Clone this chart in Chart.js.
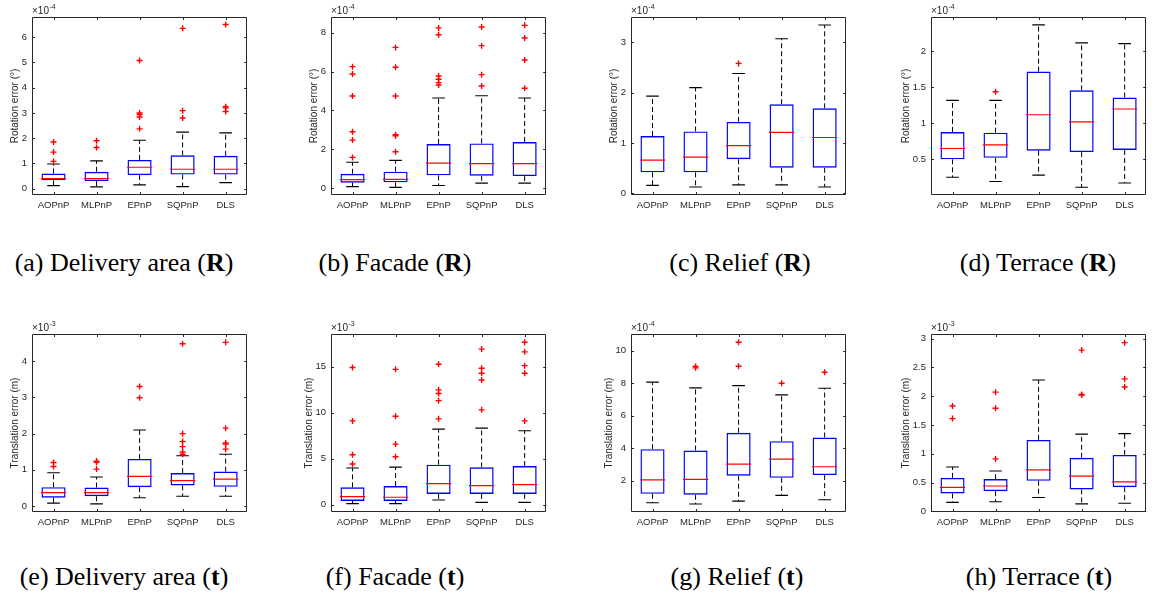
<!DOCTYPE html>
<html>
<head>
<meta charset="utf-8">
<script src="https://cdn.jsdelivr.net/npm/chart.js@4.4.1/dist/chart.umd.min.js"></script>
<style>
body { margin: 0; background: #fff; width: 1161px; height: 599px; overflow: hidden; position: relative; }
canvas { position: absolute; }
.cap { position: absolute; width: 320px; text-align: center; font-family: 'Liberation Serif', serif;
       font-size: 26px; line-height: 30px; color: #000; white-space: nowrap; }
</style>
</head>
<body>
<script>
const methods = ['AOPnP', 'MLPnP', 'EPnP', 'SQPnP', 'DLS'];

// each box: [lower whisker, q1, median, q3, upper whisker]
// (a) Delivery area, rotation  (x1e-4)
const deliveryRotBox = [[0.12, 0.33, 0.40, 0.60, 0.98], [0.07, 0.30, 0.40, 0.67, 1.10], [0.15, 0.54, 0.85, 1.14, 1.92], [0.08, 0.56, 0.77, 1.32, 2.24], [0.24, 0.56, 0.77, 1.30, 2.21]];
const deliveryRotOut = [[1.08, 1.45, 1.85], [1.63, 1.90], [2.37, 2.84, 2.94, 3.00, 5.08], [2.80, 3.09, 6.35], [3.06, 3.20, 3.25, 6.50]];
const deliveryRotTicks = [0, 1, 2, 3, 4, 5, 6];

// (b) Facade, rotation  (x1e-4)
const facadeRotBox = [[0.09, 0.29, 0.45, 0.75, 1.34], [0.05, 0.31, 0.46, 0.86, 1.44], [0.15, 0.67, 1.30, 2.28, 4.64], [0.27, 0.65, 1.27, 2.31, 4.76], [0.27, 0.63, 1.27, 2.38, 4.64]];
const facadeRotOut = [[1.59, 2.48, 2.91, 4.74, 5.87, 6.25], [1.88, 2.70, 2.76, 4.74, 6.22, 7.24], [5.31, 5.43, 5.60, 5.77, 7.89, 8.24], [5.26, 5.84, 7.33, 8.29], [5.14, 6.59, 7.72, 8.37]];
const facadeRotTicks = [0, 2, 4, 6, 8];

// (c) Relief, rotation  (x1e-4)
const reliefRotBox = [[0.16, 0.42, 0.66, 1.14, 1.93], [0.13, 0.42, 0.72, 1.23, 2.10], [0.17, 0.68, 0.95, 1.42, 2.38], [0.17, 0.51, 1.21, 1.77, 3.07], [0.13, 0.51, 1.11, 1.69, 3.34]];
const reliefRotOut = [[], [], [2.58], [], []];
const reliefRotTicks = [0, 1, 2, 3];

// (d) Terrace, rotation  (x1e-4)
const terraceRotBox = [[0.25, 0.50, 0.65, 0.88, 1.32], [0.19, 0.52, 0.70, 0.87, 1.32], [0.28, 0.62, 1.12, 1.72, 2.37], [0.11, 0.60, 1.02, 1.46, 2.12], [0.17, 0.63, 1.20, 1.36, 2.11]];
const terraceRotOut = [[], [1.44], [], [], []];
const terraceRotTicks = [0.5, 1, 1.5, 2];

// (e) Delivery area, translation  (x1e-3)
const deliveryTransBox = [[0.08, 0.23, 0.37, 0.52, 0.92], [0.06, 0.27, 0.37, 0.51, 0.80], [0.23, 0.52, 0.82, 1.30, 2.10], [0.27, 0.57, 0.70, 0.91, 1.39], [0.27, 0.53, 0.74, 0.95, 1.43]];
const deliveryTransOut = [[1.09, 1.20], [1.02, 1.21, 1.24], [2.99, 3.30], [1.43, 1.49, 1.64, 1.78, 2.00, 4.48], [1.57, 1.71, 1.74, 2.15, 4.52]];
const deliveryTransTicks = [0, 1, 2, 3, 4];

// (f) Facade, translation  (x1e-3)
const facadeTransBox = [[0.11, 0.40, 0.87, 1.88, 3.98], [0.11, 0.40, 0.80, 2.02, 4.08], [0.50, 1.16, 2.28, 4.34, 8.20], [0.25, 1.16, 2.06, 4.05, 8.31], [0.25, 1.16, 2.17, 4.19, 8.02]];
const facadeTransOut = [[4.41, 5.42, 9.10, 14.90], [5.20, 6.58, 9.60, 14.70], [9.32, 11.30, 12.07, 12.47, 15.25], [10.30, 13.55, 14.28, 14.82, 16.90], [9.10, 14.28, 15.10, 16.60, 17.64]];
const facadeTransTicks = [0, 5, 10, 15];

// (g) Relief, translation  (x1e-4)
const reliefTransBox = [[0.65, 1.20, 2.06, 3.94, 8.06], [0.57, 1.14, 2.08, 3.86, 7.71], [0.75, 2.31, 3.02, 4.95, 7.85], [1.10, 2.18, 3.33, 4.43, 7.28], [0.83, 2.35, 2.86, 4.66, 7.69]];
const reliefTransOut = [[], [8.94, 9.02], [9.04, 10.51], [7.99], [8.67]];
const reliefTransTicks = [2, 4, 6, 8, 10];

// (h) Terrace, translation  (x1e-3)
const terraceTransBox = [[0.156, 0.31, 0.415, 0.58, 0.77], [0.167, 0.35, 0.44, 0.56, 0.70], [0.24, 0.53, 0.72, 1.24, 2.28], [0.13, 0.38, 0.61, 0.93, 1.34], [0.14, 0.42, 0.51, 0.98, 1.35]];
const terraceTransOut = [[1.61, 1.83], [0.91, 1.79, 2.07], [], [2.02, 2.03, 2.80], [2.16, 2.30, 2.93]];
const terraceTransTicks = [0, 0.5, 1, 1.5, 2, 2.5, 3];

const ROT = 'Rotation error (°)';
const TRANS = 'Translation error (m)';

const panels = [
    { box: deliveryRotBox, out: deliveryRotOut, ticks: deliveryRotTicks, min: -0.25, max: 6.8, exp: '-4', title: ROT, left: 32, top: 17, gap: 17, cap: '(a) Delivery area (<b>R</b>)', capX: 124, capY: 263 },
    { box: facadeRotBox, out: facadeRotOut, ticks: facadeRotTicks, min: -0.34, max: 8.8, exp: '-4', title: ROT, left: 331, top: 17, gap: 17, cap: '(b) Facade (<b>R</b>)', capX: 395, capY: 263 },
    { box: reliefRotBox, out: reliefRotOut, ticks: reliefRotTicks, min: -0.03, max: 3.5, exp: '-4', title: ROT, left: 631, top: 17, gap: 17, cap: '(c) Relief (<b>R</b>)', capX: 740, capY: 263 },
    { box: terraceRotBox, out: terraceRotOut, ticks: terraceRotTicks, min: 0.003, max: 2.48, exp: '-4', title: ROT, left: 931, top: 17, gap: 25, cap: '(d) Terrace (<b>R</b>)', capX: 1038, capY: 263 },
    { box: deliveryTransBox, out: deliveryTransOut, ticks: deliveryTransTicks, min: -0.165, max: 4.75, exp: '-3', title: TRANS, left: 32, top: 333.5, gap: 17, cap: '(e) Delivery area (<b>t</b>)', capX: 124, capY: 577 },
    { box: facadeTransBox, out: facadeTransOut, ticks: facadeTransTicks, min: -0.8, max: 18.54, exp: '-3', title: TRANS, left: 331, top: 333.5, gap: 22, cap: '(f) Facade (<b>t</b>)', capX: 395, capY: 577 },
    { box: reliefTransBox, out: reliefTransOut, ticks: reliefTransTicks, min: 0.08, max: 11.02, exp: '-4', title: TRANS, left: 631, top: 333.5, gap: 22, cap: '(g) Relief (<b>t</b>)', capX: 737, capY: 577 },
    { box: terraceTransBox, out: terraceTransOut, ticks: terraceTransTicks, min: -0.012, max: 3.08, exp: '-3', title: TRANS, left: 931, top: 333.5, gap: 25, cap: '(h) Terrace (<b>t</b>)', capX: 1039, capY: 577 },
];

const PLOT_W = 225.5, PLOT_H = 178;
const AXIS_W = 45, PAD_TOP = 17, PAD_RIGHT = 4, XAXIS_H = 22;
const BOX_FRAC = 0.56;
const INK = '#262626';
const FONT = '"Liberation Sans", Arial, sans-serif';
const boxR = PLOT_W / methods.length * BOX_FRAC / 2;

const framePlugin = {
    id: 'frame',
    afterDatasetsDraw(chart, args, opts) {
        const { ctx, chartArea: a, scales: { x, y } } = chart;
        ctx.save();
        ctx.strokeStyle = INK;
        ctx.lineWidth = 1;
        ctx.beginPath();
        ctx.rect(Math.round(a.left) + 0.5, Math.round(a.top) + 0.5, Math.round(a.right - a.left) - 1, Math.round(a.bottom - a.top) - 1);
        y.ticks.forEach(t => {
            const py = Math.round(y.getPixelForValue(t.value)) + 0.5;
            ctx.moveTo(a.left, py); ctx.lineTo(a.left + 3, py);
            ctx.moveTo(a.right, py); ctx.lineTo(a.right - 3, py);
        });
        methods.forEach((m, i) => {
            const px = Math.round(x.getPixelForValue(i)) + 0.5;
            ctx.moveTo(px, a.bottom); ctx.lineTo(px, a.bottom - 3);
            ctx.moveTo(px, a.top); ctx.lineTo(px, a.top + 3);
        });
        ctx.stroke();
        // exponent label
        ctx.fillStyle = INK;
        ctx.textBaseline = 'alphabetic';
        ctx.font = '10px ' + FONT;
        ctx.fillText('×10', a.left, a.top - 3);
        const w = ctx.measureText('×10').width;
        ctx.font = '7px ' + FONT;
        ctx.fillText(opts.exp, a.left + w + 0.5, a.top - 8);
        ctx.restore();
    }
};

panels.forEach(p => {
    const cv = document.createElement('canvas');
    const cw = AXIS_W + PLOT_W + PAD_RIGHT, ch = PAD_TOP + PLOT_H + XAXIS_H;
    cv.width = cw; cv.height = ch;
    cv.style.left = (p.left - AXIS_W) + 'px';
    cv.style.top = (p.top - PAD_TOP) + 'px';
    document.body.appendChild(cv);

    const cap = document.createElement('div');
    cap.className = 'cap';
    cap.innerHTML = p.cap;
    cap.style.left = (p.capX - 160) + 'px';
    cap.style.top = (p.capY - 15) + 'px';
    document.body.appendChild(cap);

    const whiskers = [], caps = [], medians = [], outliers = [];
    p.box.forEach((b, i) => {
        const m = methods[i];
        whiskers.push({ x: m, y: b[3] }, { x: m, y: b[4] }, { x: m, y: null }, { x: m, y: b[1] }, { x: m, y: b[0] }, { x: m, y: null });
        caps.push({ x: m, y: b[0] }, { x: m, y: b[4] });
        medians.push({ x: m, y: b[2] });
        p.out[i].forEach(v => outliers.push({ x: m, y: v }));
    });

    new Chart(cv.getContext('2d'), {
        type: 'bar',
        data: {
            labels: methods,
            datasets: [
                { type: 'line', data: outliers, showLine: false, pointStyle: 'cross', pointRadius: 3, pointBorderColor: '#ff0000', pointBorderWidth: 1.4, order: 0 },
                { type: 'line', data: medians, showLine: false, pointStyle: 'line', pointRadius: boxR, pointBorderColor: '#ff0000', pointBorderWidth: 1.2, order: 1 },
                { type: 'bar', data: p.box.map(b => [b[1], b[3]]), backgroundColor: 'rgba(0,0,0,0)', borderColor: '#0000ff', borderWidth: 1.4, borderSkipped: false, barPercentage: BOX_FRAC, categoryPercentage: 1, order: 2 },
                { type: 'line', data: caps, showLine: false, pointStyle: 'line', pointRadius: boxR / 2, pointBorderColor: '#000', pointBorderWidth: 1.1, order: 3 },
                { type: 'line', data: whiskers, borderColor: '#000', borderWidth: 1, borderDash: [5, 3], pointRadius: 0, spanGaps: false, order: 4 },
            ]
        },
        options: {
            responsive: false, animation: false, devicePixelRatio: 1, events: [],
            layout: { padding: { top: PAD_TOP, right: PAD_RIGHT, left: 0, bottom: 0 } },
            plugins: { legend: { display: false }, tooltip: { enabled: false }, frame: { exp: p.exp } },
            scales: {
                x: {
                    type: 'category', offset: true,
                    grid: { display: false, drawTicks: false }, border: { display: false },
                    ticks: { color: INK, font: { family: FONT, size: 9.5 }, padding: 5, maxRotation: 0, autoSkip: false },
                    afterFit: s => { s.height = XAXIS_H; }
                },
                y: {
                    type: 'linear', min: p.min, max: p.max,
                    grid: { display: false, drawTicks: false }, border: { display: false },
                    ticks: { color: INK, font: { family: FONT, size: 9.5 }, padding: 5, callback: v => String(v) },
                    afterBuildTicks: s => { s.ticks = p.ticks.map(v => ({ value: v })); },
                    afterFit: s => { s.width = AXIS_W; },
                    title: { display: true, text: p.title, color: INK, font: { family: FONT, size: 10 }, padding: { top: AXIS_W - p.gap - 6, bottom: 0 } }
                }
            }
        },
        plugins: [framePlugin]
    });
});
</script>
</body>
</html>
